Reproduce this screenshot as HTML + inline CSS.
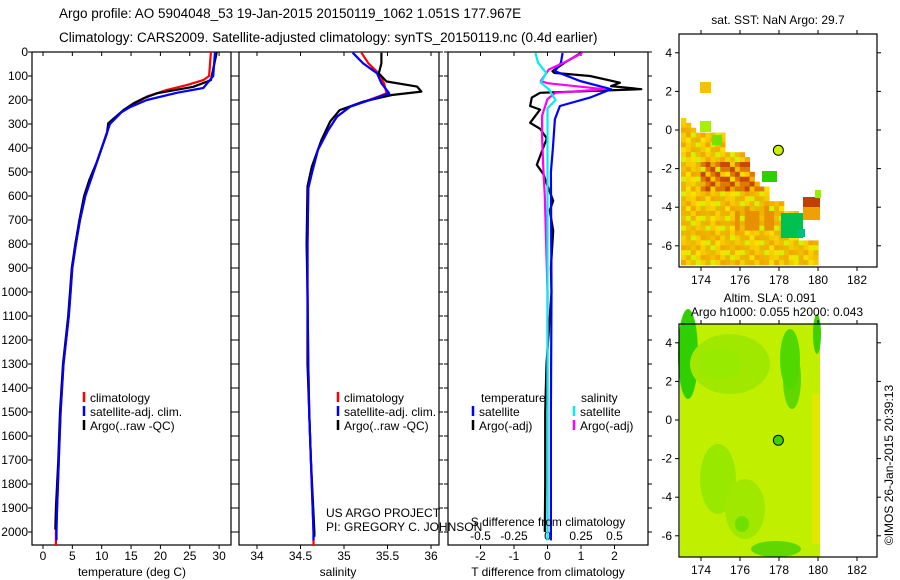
<!DOCTYPE html>
<html><head><meta charset="utf-8">
<style>
html,body{margin:0;padding:0;background:#fff;}
svg{display:block;font-family:"Liberation Sans",sans-serif;}
text{fill:#000;}
</style></head>
<body>
<svg id="fig" width="900" height="580" viewBox="0 0 900 580">
<rect width="900" height="580" fill="#fff"/>
<text x="59" y="18" font-size="13.5">Argo profile: AO 5904048_53 19-Jan-2015 20150119_1062 1.051S 177.967E</text>
<text x="59" y="42" font-size="13.5">Climatology: CARS2009. Satellite-adjusted climatology: synTS_20150119.nc (0.4d earlier)</text>
<g id="maps"></g>
<g id="panels"></g>
<text x="326" y="517" font-size="12">US ARGO PROJECT</text>
<text x="326" y="531" font-size="12">PI: GREGORY C. JOHNSON</text>
<text transform="translate(893,465) rotate(-90)" text-anchor="middle" font-size="12">©IMOS 26-Jan-2015 20:39:13</text>
</svg>
<script>
// ---- data ----
const depthTicks = [0,100,200,300,400,500,600,700,800,900,1000,1100,1200,1300,1400,1500,1600,1700,1800,1900,2000];
const tTicks = [0,5,10,15,20,25,30];
const sTicks = [34,34.5,35,35.5,36];
const dTTicks = [-2,-1,0,1,2];
const dSTicks = [-0.5,-0.25,0,0.25,0.5];
const dSTickLabels = ["-0.5","-0.25","0","0.25","0.5"];

const tClimDepth = [0,100,117,138,158,186,230,250,300,400,500,600,700,800,900,1000,1100,1300,1500,1700,1900,2000,2058];
const tClim      = [28.6,28.3,27.3,24.5,21.1,17.7,14.8,13.4,11.4,10,8.6,7.2,6.3,5.6,5.0,4.7,4.4,3.5,3.0,2.7,2.4,2.2,2.2];
const tSatDepth = [0,100,150,170,200,230,250,300,400,500,600,700,800,900,1000,1100,1300,1500,1700,1900,2000,2035];
const tSat      = [29.3,29.0,27.3,22.8,17.7,14.8,13.4,11.4,10,8.6,7.2,6.3,5.6,5.0,4.7,4.4,3.5,3.0,2.7,2.4,2.3,2.3];
const tArgoDepth = [0,117,145,172,193,214,242,297,338,463,532,600,700,800,900,1000,1100,1300,1500,1700,1900,1990];
const tArgo      = [29.6,28.6,25.6,19.4,17.1,15.4,13.7,11.1,10.9,9.1,7.9,7.0,6.2,5.5,4.9,4.6,4.3,3.4,2.9,2.6,2.2,2.1];

const sClimDepth = [3,47,89,130,172,185,228,269,325,408,506,568,800,1000,1300,1500,1700,2000,2058];
const sClim      = [35.2,35.28,35.4,35.46,35.49,35.4,35.07,34.92,34.82,34.70,34.63,34.59,34.58,34.58,34.59,34.6,34.62,34.65,34.65];
const sSatDepth = [3,47,89,130,172,200,228,269,325,408,506,568,800,1000,1300,1500,1700,2000,2035];
const sSat      = [35.10,35.22,35.38,35.43,35.52,35.30,35.07,34.92,34.82,34.70,34.63,34.59,34.58,34.58,34.59,34.6,34.62,34.65,34.65];
const sArgoDepth = [3,47,89,123,144,165,179,207,242,290,367,478,560,800,1000,1300,1500,1700,2000,2020];
const sArgo      = [35.43,35.43,35.40,35.49,35.84,35.89,35.55,35.22,34.95,34.84,34.74,34.63,34.58,34.57,34.58,34.58,34.6,34.62,34.66,34.66];

const dTSatDepth = [4,45,80,121,155,190,225,280,400,500,1000,1500,2035];
const dTSat      = [0.45,0.4,0.22,0.97,1.9,1.27,0.37,0.22,0.16,0.1,0.12,0.1,0.1];
const dTArgoDepth = [4,45,80,87,100,128,142,155,170,190,225,240,295,320,360,470,510,550,620,660,745,900,1000,1300,1500,1800,2000];
const dTArgo      = [1.0,0.5,0.15,0.2,1.27,2.16,1.9,2.8,-0.22,-0.47,-0.52,-0.22,-0.52,-0.22,-0.02,-0.32,-0.12,-0.02,0.17,0.07,0.17,0.1,0.12,-0.03,-0.07,-0.07,-0.08];
const dSSatDepth = [4,45,87,128,155,200,235,300,500,1000,1500,2035];
const dSSat      = [-0.09,-0.07,-0.01,-0.05,0.01,0.06,0.0,0.0,0.0,0.0,0.0,0.0];
const dSArgoDepth = [4,45,73,121,130,155,170,196,265,360,500,600,1000,1500,2000];
const dSArgo      = [0.26,0.12,0.01,-0.05,0.0,0.42,0.06,0.0,-0.04,-0.04,-0.03,-0.02,0.0,0.0,0.0];

// ---- layout ----
const NS="http://www.w3.org/2000/svg";
const gp=document.getElementById('panels');
const gm=document.getElementById('maps');
const Y0=52, DY=0.24;
function yD(d){return Y0+DY*d;}
const PT=52, PB=545;
function mk(tag,attrs,parent){const e=document.createElementNS(NS,tag);for(const k in attrs)e.setAttribute(k,attrs[k]);(parent||gp).appendChild(e);return e;}
function txt(x,y,s,size,anchor,parent){const t=mk('text',{x:x,y:y,'font-size':size||12,'text-anchor':anchor||'middle'},parent);t.textContent=s;return t;}

const xT=v=>43+5.87*v;
const xS=v=>257+87*(v-34);
const xDT=v=>547.5+33.5*v;
const xDS=v=>547.5+134*v;

function frame(x0,x1,name){
  const r=mk('rect',{x:x0,y:PT,width:x1-x0,height:PB-PT,fill:'none',stroke:'#000','stroke-width':1.2});
  
  
  depthTicks.forEach(d=>{const y=yD(d);
    mk('line',{x1:x0-4,x2:x0,y1:y,y2:y,stroke:'#000'});
    mk('line',{x1:x1,x2:x1+4,y1:y,y2:y,stroke:'#000'});});
}
function xticks(ticks,scale,x0,x1,y,labels){
  ticks.forEach((v,i)=>{const x=scale(v);
    mk('line',{x1:x,x2:x,y1:PB,y2:PB+4,stroke:'#000'});
    mk('line',{x1:x,x2:x,y1:PT,y2:PT+4,stroke:'#000'});
    const t=txt(x,y,labels?labels[i]:String(v),12);
    
    
  });
}
function line(depths,vals,scale,color,name,w){
  const pts=depths.map((d,i)=>scale(vals[i]).toFixed(1)+','+yD(d).toFixed(1)).join(' ');
  const p=mk('polyline',{points:pts,fill:'none',stroke:color,'stroke-width':w||2.2,'stroke-linejoin':'round'});
  
  
}
function legend(x,y,items){
  items.forEach((it,i)=>{
    mk('line',{x1:x,x2:x,y1:y+i*14-10,y2:y+i*14,stroke:it[1],'stroke-width':2.5});
    const t=txt(x+6,y+i*14,it[0],12,'start');
    
    
  });
}

depthTicks.forEach(d=>{const t=txt(28,yD(d)+4,String(d),12,'end');
  
  });

// Panel 1 temperature
frame(32,231,'temperature-panel');
xticks(tTicks,xT,32,231,560);
line(tClimDepth,tClim,xT,'#ff0000','temp-climatology-line');
line(tArgoDepth,tArgo,xT,'#000000','temp-argo-line');
line(tSatDepth,tSat,xT,'#0000ff','temp-satellite-line');
txt(132,576,'temperature (deg C)',12);
legend(84,402,[['climatology','#ff0000'],['satellite-adj. clim.','#0000ff'],['Argo(..raw -QC)','#000']]);

// Panel 2 salinity
frame(239,439,'salinity-panel');
xticks(sTicks,xS,239,439,560);
line(sClimDepth,sClim,xS,'#ff0000','sal-climatology-line');
line(sArgoDepth,sArgo,xS,'#000000','sal-argo-line');
line(sSatDepth,sSat,xS,'#0000ff','sal-satellite-line');
txt(338,576,'salinity',12);
legend(338,402,[['climatology','#ff0000'],['satellite-adj. clim.','#0000ff'],['Argo(..raw -QC)','#000']]);

// Panel 3 differences
frame(448,648,'difference-panel');
xticks(dTTicks,xDT,448,648,560);
dSTicks.forEach((v,i)=>{const t=txt(xDS(v),540,dSTickLabels[i],12);
  
  });
line(dTArgoDepth,dTArgo,xDT,'#000000','dT-argo-line');
line(dTSatDepth,dTSat,xDT,'#0000ff','dT-satellite-line');
line(dSArgoDepth,dSArgo,xDS,'#ff00ff','dS-argo-line');
line(dSSatDepth,dSSat,xDS,'#00eeee','dS-satellite-line');
txt(548,526,'S difference from climatology',12);
txt(548,576,'T difference from climatology',12);
txt(481,402,'temperature',12,'start');
txt(581,402,'salinity',12,'start');
legend(473,416,[['satellite','#0000ff'],['Argo(-adj)','#000']]);
legend(574,416,[['satellite','#00eeee'],['Argo(-adj)','#ff00ff']]);

// ---- maps ----
const MX0=679,MX1=877;
const lonX=l=>701+19.5*(l-174);
function mapFrame(top,name){
  const bottom=top+233;
  const latY=la=>top+96-19.3*la;
  const r=mk('rect',{x:MX0,y:top,width:MX1-MX0,height:233,fill:'none',stroke:'#000','stroke-width':1.2},gm);
  
  
  [174,176,178,180,182].forEach(l=>{const x=lonX(l);
    mk('line',{x1:x,x2:x,y1:bottom,y2:bottom+4,stroke:'#000'},gm);
    mk('line',{x1:x,x2:x,y1:top-4,y2:top,stroke:'#000'},gm);
    txt(x,bottom+17,String(l),12,'middle',gm);});
  [4,2,0,-2,-4,-6].forEach(la=>{const y=latY(la);
    mk('line',{x1:MX0-4,x2:MX0,y1:y,y2:y,stroke:'#000'},gm);
    mk('line',{x1:MX1,x2:MX1+4,y1:y,y2:y,stroke:'#000'},gm);
    txt(MX0-7,y+4,String(la),12,'end',gm);});
  return latY;
}
// top SST map
(function(){
  const top=34;
  const poly=[[681,113],[693,126],[700,135],[723,133],[723,143],[728,153],[750,155],[750,170],[757,182],[768,187],[768,198],[785,202],[785,213],[797,213],[800,240],[820,240],[820,267],[681,267]];
  function inside(x,y){let c=false;for(let i=0,j=poly.length-1;i<poly.length;j=i++){const [xi,yi]=poly[i],[xj,yj]=poly[j];if(((yi>y)!=(yj>y))&&(x<(xj-xi)*(y-yi)/(yj-yi)+xi))c=!c;}return c;}
  const pal=['#f8d000','#f0c000','#f8e000','#e8b800','#f0a800','#d8f000','#f8c800','#f0b000'];
  const g=mk('g',{},gm);
  const cs=4.9;
  for(let x=681;x<820;x+=cs){for(let y=113;y<267;y+=cs){
    if(!inside(x+cs/2,y+cs/2))continue;
    const h=((Math.floor(x*7.3)*131+Math.floor(y*3.1)*71)%97);
    let c=pal[h%pal.length];
    if(x>700&&x<760&&y>160&&y<190&&h%3!=0)c=['#d86000','#c84800','#e07800'][h%3];
    if(x>730&&x<775&&y>205&&y<230&&h%2==0)c='#e89000';
    mk('rect',{x:x.toFixed(1),y:y.toFixed(1),width:cs+0.4,height:cs+0.4,fill:c},g);
  }}
  mk('rect',{x:803,y:197,width:17,height:10,fill:'#c04000'},g);
  mk('rect',{x:803,y:207,width:17,height:13,fill:'#f0a000'},g);
  mk('rect',{x:815,y:190,width:6,height:8,fill:'#98f000'},g);
  mk('rect',{x:762,y:171,width:15,height:11,fill:'#30d000'},g);
  mk('rect',{x:700,y:82,width:11,height:11,fill:'#f8c000'},g);
  mk('rect',{x:700,y:121,width:11,height:11,fill:'#a8f000'},g);
  mk('rect',{x:781,y:213,width:22,height:25,fill:'#00c050'},g);
  mk('rect',{x:797,y:229,width:8,height:8,fill:'#00c080'},g);
  mk('rect',{x:712,y:135,width:10,height:10,fill:'#78e000'},g);
  const latY=mapFrame(top,'sst-map-frame');
  const m=mk('circle',{cx:lonX(177.967),cy:latY(-1.051),r:5,fill:'#c8f000',stroke:'#000','stroke-width':1},gm);
  
  txt(778,24,'sat. SST: NaN Argo: 29.7',12,'middle',gm);
})();
// bottom SLA map
(function(){
  const top=324;
  const g=mk('g',{},gm);
  mk('rect',{x:680,y:top,width:140,height:233,fill:'#c0f000'},g);
  mk('rect',{x:812,y:top+70,width:8,height:150,fill:'#e0e800'},g);
  const blobs=[[688,top+30,10,45,'#30d000'],[730,top+40,40,30,'#a0e800'],[792,top+55,9,30,'#60d800'],[790,top+35,10,30,'#50d800'],[718,top+155,18,35,'#98e800'],[745,top+185,20,30,'#a0e800'],[742,top+200,7,8,'#70e000'],[720,top+40,22,15,'#98ea00'],[776,top+225,25,8,'#60d800'],[817,top+10,4,20,'#40d000']];
  blobs.forEach(b=>mk('ellipse',{cx:b[0],cy:b[1],rx:b[2],ry:b[3],fill:b[4]},g));
  const latY=mapFrame(top,'sla-map-frame');
  const m=mk('circle',{cx:lonX(177.967),cy:latY(-1.051),r:5,fill:'#40d000',stroke:'#000','stroke-width':1},gm);
  
  txt(770,302,'Altim. SLA: 0.091',12,'middle',gm);
  txt(777,316,'Argo h1000: 0.055 h2000: 0.043',12,'middle',gm);
})();
</script>
</body></html>
